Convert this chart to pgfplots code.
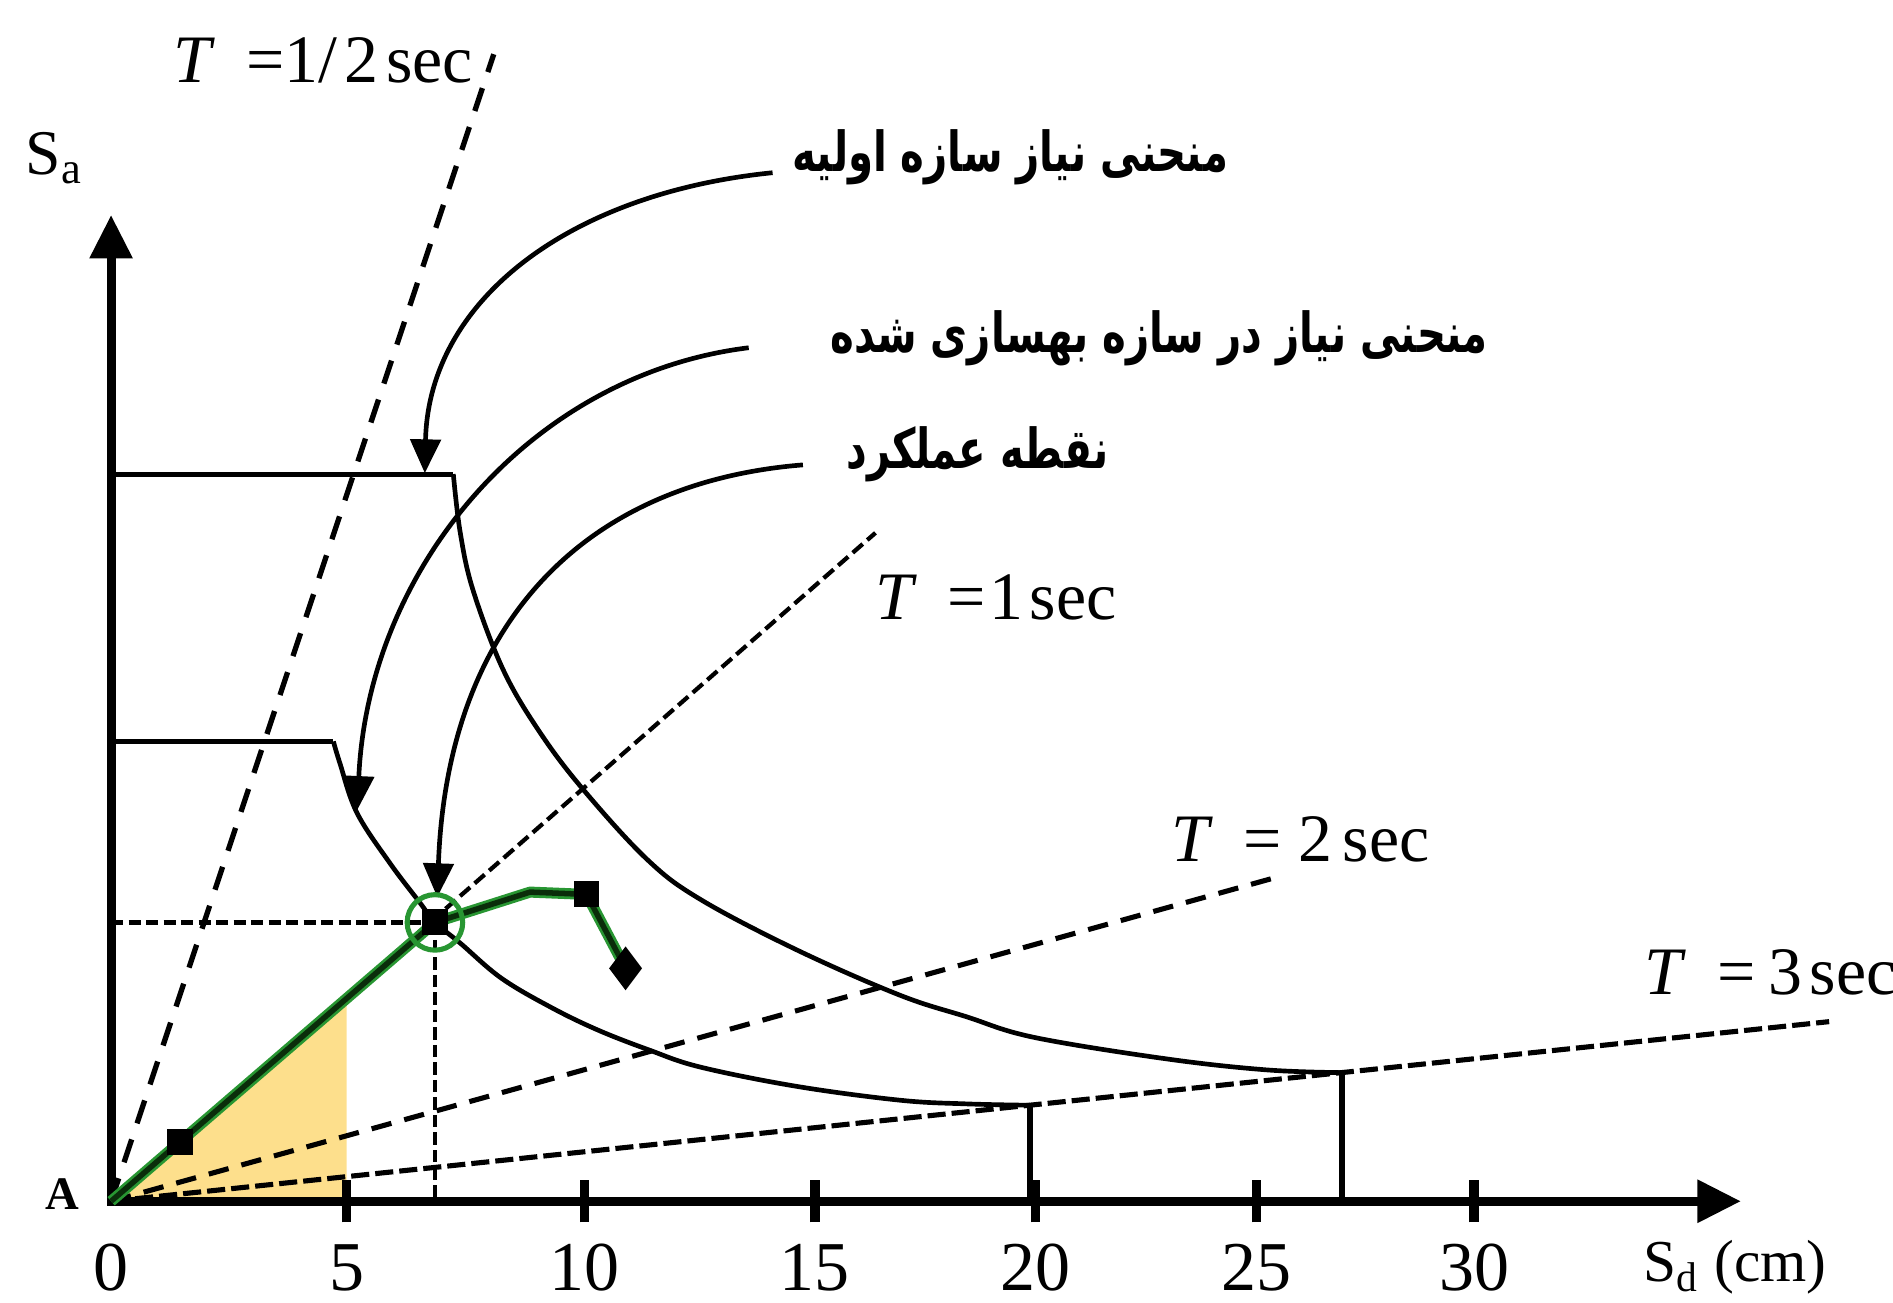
\documentclass[border=0pt]{standalone}
\usepackage{pgfplots}
\pgfplotsset{compat=1.18}
\usepackage{graphicx}
\usepackage{fontspec}
\setmainfont{Liberation Serif}
\newfontfamily\arabicfont[Script=Arabic]{DejaVu Sans}
\TeXXeTstate=1
\usetikzlibrary{arrows.meta}
\definecolor{fillyellow}{RGB}{253,223,140}
\definecolor{capgreen}{RGB}{40,150,50}
\definecolor{capdark}{RGB}{10,45,10}
\begin{document}
\begin{tikzpicture}
\begin{axis}[
  x=0.3805cm, y=0.3805cm,
  xmin=-2.418, xmax=38.79, ymin=-2.208, ymax=26.15,
  hide axis, clip=false,
]
\coordinate (BL) at (axis cs:-2.418,-2.208);
\coordinate (TR) at (axis cs:38.79,26.15);
% yellow area under the capacity curve up to Sd = 5 cm
\addplot[fill=fillyellow, draw=none] coordinates {(0,0) (5.125,4.41)} \closedcycle;
% period lines
\addplot[black, line width=1.25pt, dash pattern=on 0.2cm off 0.14cm] coordinates {(0,0) (8.33,24.97)};
\addplot[black, line width=1.0pt, dash pattern=on 0.11cm off 0.05cm] coordinates {(0,0) (16.64,14.55)};
\addplot[black, line width=1.2pt, dash pattern=on 0.17cm off 0.11cm] coordinates {(0,0) (25.36,7.05)};
\addplot[black, line width=1.2pt, dash pattern=on 0.15cm off 0.05cm] coordinates {(0,0) (37.40,3.91)};
% performance point guides
\addplot[black, line width=1.1pt, dash pattern=on 0.1cm off 0.045cm] coordinates {(0,6.07) (7.05,6.07)};
\addplot[black, line width=1.1pt, dash pattern=on 0.1cm off 0.045cm] coordinates {(7.05,6.07) (7.05,0)};
% initial demand curve
\addplot[black, line width=1.2pt] coordinates {(0,15.83) (7.45,15.83)};
\addplot[black, line width=1.1pt, smooth, tension=0.6] coordinates {
 (7.45,15.83) (7.60,14.56) (7.88,13.30) (8.54,11.56) (9.34,10.20) (10.28,8.96)
 (11.67,7.44) (12.83,6.57) (14.93,5.47) (17.16,4.49) (18.61,4.02) (20.08,3.57)
 (22.97,3.10) (25.15,2.86) (26.8,2.80)};
\addplot[black, line width=1.4pt] coordinates {(26.8,2.80) (26.8,0)};
% retrofitted demand curve
\addplot[black, line width=1.2pt] coordinates {(0,10.01) (4.84,10.01)};
\addplot[black, line width=1.1pt, smooth, tension=0.6] coordinates {
 (4.84,10.01) (4.98,9.54) (5.35,8.46) (6.07,7.36) (6.73,6.49) (7.05,6.07) (7.60,5.62)
 (8.49,4.86) (9.56,4.23) (10.59,3.73) (11.72,3.29) (12.83,2.92) (14.93,2.50)
 (17.17,2.20) (18.61,2.12) (20.0,2.09)};
\addplot[black, line width=1.4pt] coordinates {(20,2.09) (20,0)};
% axes (hand-drawn tick spacing of the original)
\addplot[black, line width=2.1pt, line join=miter,
  {Triangle[length=0.36cm,width=0.34cm]}-{Triangle[length=0.36cm,width=0.34cm]}]
  coordinates {(0,21.47) (0,0) (35.48,0)};
\addplot[black, line width=2.2pt] coordinates {(5.125,-0.46) (5.125,0.46)};
\addplot[black, line width=2.2pt] coordinates {(10.30,-0.46) (10.30,0.46)};
\addplot[black, line width=2.2pt] coordinates {(15.32,-0.46) (15.32,0.46)};
\addplot[black, line width=2.2pt] coordinates {(20.13,-0.46) (20.13,0.46)};
\addplot[black, line width=2.2pt] coordinates {(24.94,-0.46) (24.94,0.46)};
\addplot[black, line width=2.2pt] coordinates {(29.67,-0.46) (29.67,0.46)};
% capacity curve
\addplot[capgreen, line width=2.6pt, line join=round] coordinates {(0,0) (7.05,6.07) (9.12,6.73) (10.35,6.68) (11.2,5.07)};
\addplot[capdark, line width=1.3pt, line join=round] coordinates {(0,0) (7.05,6.07) (9.12,6.73) (10.35,6.68) (11.2,5.07)};
\addplot[only marks, mark=square*, mark size=0.1cm, black] coordinates {(1.5,1.29) (10.35,6.68) (7.05,6.07)};
\addplot[only marks, mark=diamond*, mark size=0.17cm, black] coordinates {(11.2,5.07)};
\addplot[only marks, mark=o, mark size=0.23cm, mark options={draw=capgreen, line width=1.2pt}] coordinates {(7.05,6.07)};
% annotation arrows
\draw[black, line width=1.1pt, -{Triangle[length=0.28cm,width=0.25cm]}]
  (axis cs:14.40,22.39) .. controls (axis cs:9.93,21.94) and (axis cs:6.91,19.58) .. (axis cs:6.83,15.85);
\draw[black, line width=1.1pt, -{Triangle[length=0.28cm,width=0.25cm]}]
  (axis cs:13.88,18.58) .. controls (axis cs:9.15,18.00) and (axis cs:5.60,13.80) .. (axis cs:5.36,8.52);
\draw[black, line width=1.1pt, -{Triangle[length=0.28cm,width=0.25cm]}]
  (axis cs:15.06,16.03) .. controls (axis cs:10.20,15.64) and (axis cs:7.31,12.48) .. (axis cs:7.10,6.62);
% labels
\node[font=\fontsize{16}{18}\selectfont] at (axis cs:4.62,24.84) {\textit{T}\hspace{0.45em}=1/\hspace{0.1em}2\hspace{0.12em}sec};
\node[font=\fontsize{16}{18}\selectfont] at (axis cs:19.26,13.14) {\textit{T}\hspace{0.45em}=\hspace{0.05em}1\hspace{0.1em}sec};
\node[font=\fontsize{16}{18}\selectfont] at (axis cs:25.89,7.88) {\textit{T}\hspace{0.45em}=\hspace{0.25em}2\hspace{0.15em}sec};
\node[font=\fontsize{16}{18}\selectfont, anchor=west] at (axis cs:33.06,4.99) {\textit{T}\hspace{0.45em}=\hspace{0.2em}3\hspace{0.1em}sec};
\node[font=\fontsize{15}{17}\selectfont] at (axis cs:-1.235,22.70) {S\textsubscript{a}};
\node[font=\bfseries\fontsize{11}{13}\selectfont] at (axis cs:-1.05,0.15) {A};
\node[font=\fontsize{14}{16}\selectfont] at (axis cs:35.35,-1.445) {S\textsubscript{d} (cm)};
\node[font=\fontsize{16.5}{18}\selectfont] at (axis cs:0,-1.445) {0};
\node[font=\fontsize{16.5}{18}\selectfont] at (axis cs:5.125,-1.445) {5};
\node[font=\fontsize{16.5}{18}\selectfont] at (axis cs:10.30,-1.445) {10};
\node[font=\fontsize{16.5}{18}\selectfont] at (axis cs:15.32,-1.445) {15};
\node[font=\fontsize{16.5}{18}\selectfont] at (axis cs:20.13,-1.445) {20};
\node[font=\fontsize{16.5}{18}\selectfont] at (axis cs:24.94,-1.445) {25};
\node[font=\fontsize{16.5}{18}\selectfont] at (axis cs:29.67,-1.445) {30};
\node[anchor=west, font=\arabicfont\bfseries\fontsize{13}{15}\selectfont] at (axis cs:14.50,22.73) {\scalebox{0.73}[1]{\beginR منحنی نیاز سازه اولیه\endR}};
\node[anchor=west, font=\arabicfont\bfseries\fontsize{13}{15}\selectfont] at (axis cs:15.33,18.79) {\scalebox{0.73}[1]{\beginR منحنی نیاز در سازه بهسازی شده\endR}};
\node[anchor=west, font=\arabicfont\bfseries\fontsize{13}{15}\selectfont] at (axis cs:15.68,16.25) {\scalebox{0.73}[1]{\beginR نقطه عملکرد\endR}};
\end{axis}
\pgfresetboundingbox
\path[use as bounding box] (BL) rectangle (TR);
\end{tikzpicture}
\end{document}
